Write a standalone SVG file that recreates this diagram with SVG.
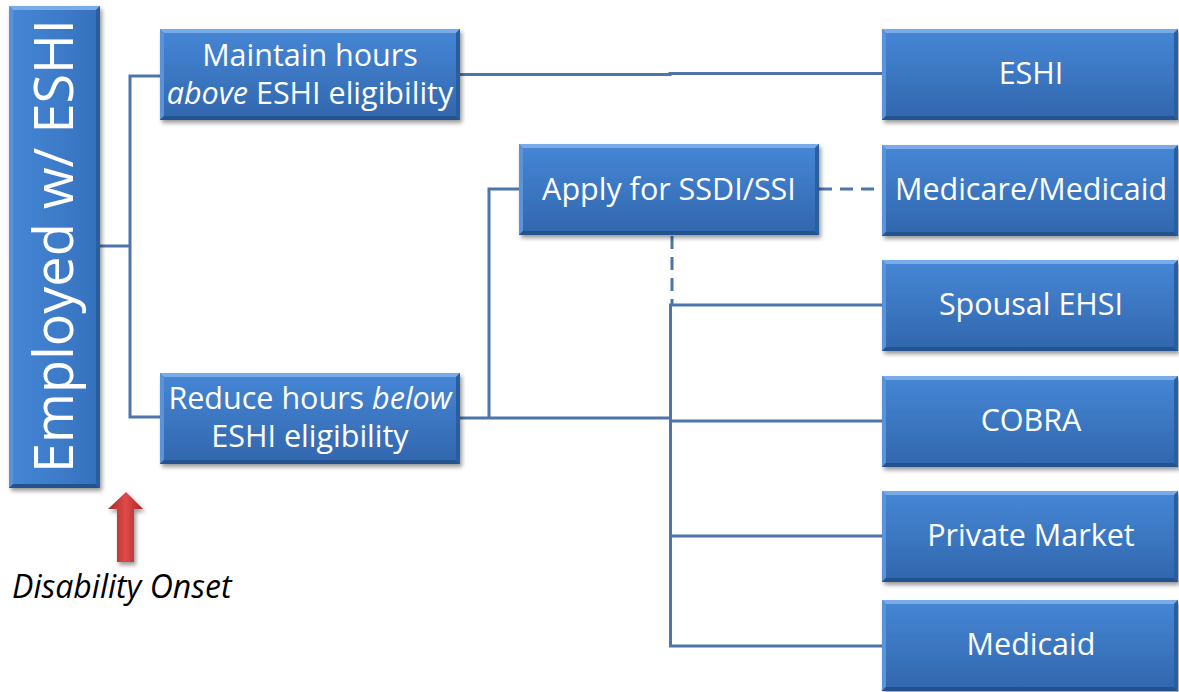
<svg xmlns="http://www.w3.org/2000/svg" xmlns:xlink="http://www.w3.org/1999/xlink" width="1179" height="692" viewBox="0 0 1179 692">
  <style>
    .lbl { font-family: "Open Sans", "Noto Sans", "Liberation Sans", sans-serif; font-size: 30.5px; fill: #ffffff; text-anchor: middle; }
    .big { font-size: 54px; }
    .it { font-style: italic; }
    .wire { fill: none; stroke: #4e75ab; stroke-width: 3; }
    .dash { stroke-dasharray: 13 8; }
    .bev-t { fill: #78abe8; }
    .bev-l { fill: #5a93da; }
    .bev-b { fill: #23528e; }
    .bev-r { fill: #2b5f9f; }
    .note { font-family: "Open Sans", "Noto Sans", "Liberation Sans", sans-serif; font-size: 32px; font-style: italic; fill: #000000; }
  </style>
  <defs>
    <linearGradient id="boxFill" x1="0" y1="0" x2="0" y2="1">
      <stop offset="0" stop-color="#4687d6"/>
      <stop offset="1" stop-color="#3166ad"/>
    </linearGradient>
    <linearGradient id="tallFill" x1="0" y1="0" x2="1" y2="0">
      <stop offset="0" stop-color="#4687d6"/>
      <stop offset="1" stop-color="#3571bd"/>
    </linearGradient>
    <linearGradient id="arrowFill" x1="0" y1="0" x2="1" y2="0">
      <stop offset="0" stop-color="#a82a2a"/>
      <stop offset="0.5" stop-color="#df4a48"/>
      <stop offset="1" stop-color="#a52929"/>
    </linearGradient>
    <filter id="shadow" x="-10%" y="-10%" width="125%" height="130%">
      <feDropShadow dx="2" dy="3" stdDeviation="2" flood-color="#000" flood-opacity="0.4"/>
    </filter>
    <!-- 300 x 91 bevelled tile -->
    <g id="tileA">
      <rect x="0" y="0" width="300" height="91" fill="url(#boxFill)"/>
      <polygon class="bev-t" points="0,0 300,0 296,4 4,4"/>
      <polygon class="bev-l" points="0,0 4,4 4,87 0,91"/>
      <polygon class="bev-b" points="0,91 4,87 296,87 300,91"/>
      <polygon class="bev-r" points="300,0 300,91 296,87 296,4"/>
    </g>
    <!-- 296 x 91 bevelled tile for the right column -->
    <g id="tileB">
      <rect x="0" y="0" width="296" height="91" fill="url(#boxFill)"/>
      <polygon class="bev-t" points="0,0 296,0 292,4 4,4"/>
      <polygon class="bev-l" points="0,0 4,4 4,87 0,91"/>
      <polygon class="bev-b" points="0,91 4,87 292,87 296,91"/>
      <polygon class="bev-r" points="296,0 296,91 292,87 292,4"/>
    </g>
  </defs>

  <rect width="1179" height="692" fill="#ffffff"/>

  <!-- connectors -->
  <g id="connectors">
    <path class="wire" d="M100,246 H130"/>
    <path class="wire" d="M160,76 H130 V417 H160"/>
    <path class="wire" d="M460,74.5 H670 V73.5 H882"/>
    <path class="wire" d="M460,418 H670"/>
    <path class="wire" d="M489,418 V189 H519"/>
    <path class="wire dash" d="M819,189 H882"/>
    <path class="wire dash" d="M672,236 V305"/>
    <path class="wire" d="M882,305 H670.5 V646 H882"/>
    <path class="wire" d="M670,421 H882"/>
    <path class="wire" d="M670,536 H882"/>
  </g>

  <!-- left status bar -->
  <g id="node-employed" filter="url(#shadow)">
    <rect x="9" y="6" width="91" height="482" fill="url(#tallFill)"/>
    <polygon class="bev-t" points="9,6 100,6 96,10 13,10"/>
    <polygon class="bev-l" points="9,6 13,10 13,484 9,488"/>
    <polygon class="bev-b" points="9,488 13,484 96,484 100,488"/>
    <polygon class="bev-r" points="100,6 100,488 96,484 96,10"/>
    <text class="lbl big" transform="translate(73,246) rotate(-90)" x="0" y="0">Employed w/ ESHI</text>
  </g>

  <g id="node-maintain" transform="translate(160,29)">
    <use xlink:href="#tileA" filter="url(#shadow)"/>
    <text class="lbl" x="150" y="37">Maintain hours</text>
    <text class="lbl" x="150" y="75"><tspan class="it">above</tspan> ESHI eligibility</text>
  </g>

  <g id="node-reduce" transform="translate(160,373)">
    <use xlink:href="#tileA" filter="url(#shadow)"/>
    <text class="lbl" x="150" y="36">Reduce hours <tspan class="it">below</tspan></text>
    <text class="lbl" x="150" y="74">ESHI eligibility</text>
  </g>

  <g id="node-apply" transform="translate(519,144)">
    <use xlink:href="#tileA" filter="url(#shadow)"/>
    <text class="lbl" x="150" y="56">Apply for SSDI/SSI</text>
  </g>

  <g id="node-eshi" transform="translate(882,29)">
    <use xlink:href="#tileB" filter="url(#shadow)"/>
    <text class="lbl" x="149" y="55">ESHI</text>
  </g>

  <g id="node-medicare" transform="translate(882,145)">
    <use xlink:href="#tileB" filter="url(#shadow)"/>
    <text class="lbl" x="149" y="55">Medicare/Medicaid</text>
  </g>

  <g id="node-spousal" transform="translate(882,260)">
    <use xlink:href="#tileB" filter="url(#shadow)"/>
    <text class="lbl" x="149" y="55">Spousal EHSI</text>
  </g>

  <g id="node-cobra" transform="translate(882,376)">
    <use xlink:href="#tileB" filter="url(#shadow)"/>
    <text class="lbl" x="149" y="55">COBRA</text>
  </g>

  <g id="node-private" transform="translate(882,491)">
    <use xlink:href="#tileB" filter="url(#shadow)"/>
    <text class="lbl" x="149" y="55">Private Market</text>
  </g>

  <g id="node-medicaid" transform="translate(882,600)">
    <use xlink:href="#tileB" filter="url(#shadow)"/>
    <text class="lbl" x="149" y="55">Medicaid</text>
  </g>

  <!-- onset marker -->
  <g id="onset">
    <polygon points="126,492 143,509 134,509 134,562 117,562 117,509 108,509" fill="url(#arrowFill)" filter="url(#shadow)"/>
    <text class="note" x="12" y="598">Disability Onset</text>
  </g>
</svg>
